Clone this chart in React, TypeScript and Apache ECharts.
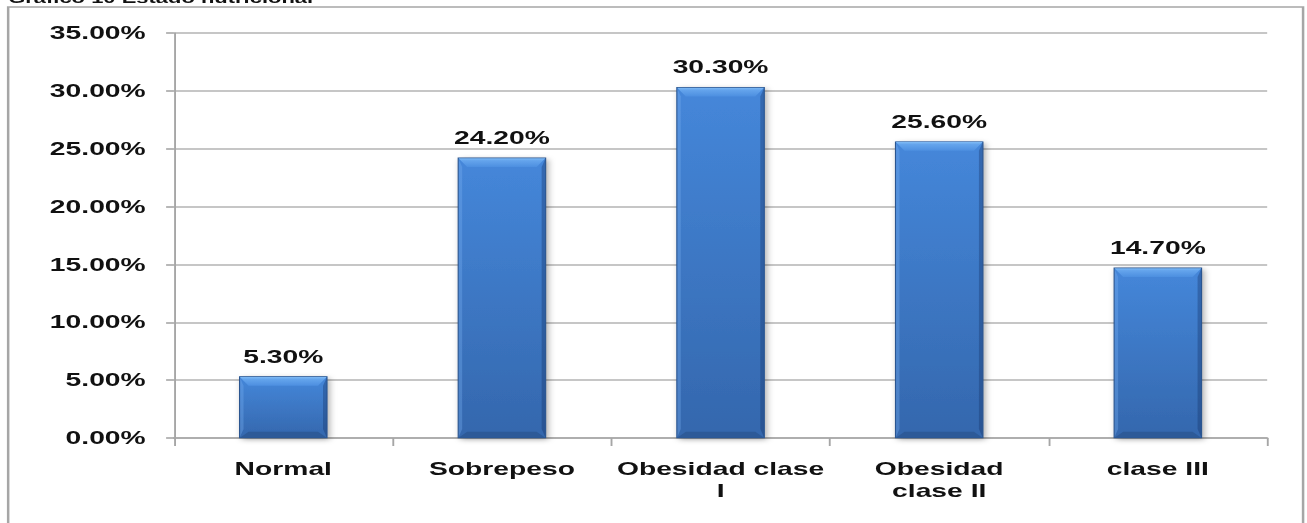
import React, { useEffect, useRef } from "react";
import * as echarts from "echarts";

const titleText = "Gráfico 10 Estado nutricional";
const categories = ["Normal", "Sobrepeso", "Obesidad clase\nI", "Obesidad\nclase II", "clase III"];
const values = [5.3, 24.2, 30.3, 25.6, 14.7];
const yMin = 0;
const yMax = 35;
const yStep = 5;

const STRETCH = 1.57;
const FULL_W = 1307;
const FULL_H = 523;
const W = FULL_W / STRETCH;
const BAR_RATIO = 0.4;

export default function App() {
  const ref = useRef<HTMLDivElement>(null);
  useEffect(() => {
    if (!ref.current) return;
    const chart = echarts.init(ref.current, null, { renderer: "svg" });
    const font = "'Liberation Sans', Arial, sans-serif";

    const renderBar = (params: any, api: any) => {
      const idx = api.value(0);
      const val = api.value(1);
      const top = api.coord([idx, val]);
      const base = api.coord([idx, 0]);
      const band = api.size([1, 0])[0];
      const w = band * BAR_RATIO;
      const x0 = top[0] - w / 2;
      const x1 = top[0] + w / 2;
      const y0 = top[1];
      const y1 = base[1];
      const h = y1 - y0;
      const bv = Math.min(9, h / 3); // vertical bevel size (px)
      const bh = bv / STRETCH; // horizontal bevel size in unstretched units
      const edge = 4 / STRETCH;
      return {
        type: "group",
        children: [
          {
            type: "rect",
            shape: { x: x0, y: y0, width: w, height: h },
            style: {
              fill: new echarts.graphic.LinearGradient(0, 0, 0, 1, [
                { offset: 0, color: "#4587da" },
                { offset: 1, color: "#3467ad" },
              ]),
              shadowColor: "rgba(0,0,0,0.35)",
              shadowBlur: 5,
              shadowOffsetX: 1.5,
              shadowOffsetY: 1.5,
            },
          },
          {
            type: "polygon",
            shape: { points: [[x0, y0], [x0 + edge, y0 + bv], [x0 + edge, y1 - bv], [x0, y1]] },
            style: { fill: "rgba(120,175,240,0.35)" },
          },
          {
            type: "polygon",
            shape: { points: [[x1, y0], [x1 - edge, y0 + bv], [x1 - edge, y1 - bv], [x1, y1]] },
            style: { fill: "rgba(20,50,100,0.35)" },
          },
          {
            type: "polygon",
            shape: { points: [[x0, y0], [x1, y0], [x1 - bh, y0 + bv], [x0 + bh, y0 + bv]] },
            style: {
              fill: new echarts.graphic.LinearGradient(0, 0, 0, 1, [
                { offset: 0, color: "#82bdf6" },
                { offset: 0.3, color: "#64a4ec" },
                { offset: 1, color: "#4d8fe0" },
              ]),
            },
          },
          {
            type: "polygon",
            shape: { points: [[x0, y1], [x1, y1], [x1 - bh, y1 - bv * 0.7], [x0 + bh, y1 - bv * 0.7]] },
            style: { fill: "#2d5a98" },
          },
          {
            type: "rect",
            shape: { x: x0, y: y0, width: w, height: h },
            style: { fill: "none", stroke: "#2a5590", lineWidth: 0.7 },
          },
        ],
      };
    };

    chart.setOption({
      animation: false,
      backgroundColor: "#ffffff",
      graphic: [
        {
          type: "rect",
          shape: { x: 5.2, y: 7, width: W - 5.2 - 2.5, height: 600 },
          style: { fill: "none", stroke: "#a6a6a6", lineWidth: 1.6 },
          silent: true,
        },
        {
          type: "text",
          x: 5.2,
          y: 5,
          style: {
            text: titleText,
            font: "bold 14px " + font,
            fill: "#111",
            textVerticalAlign: "bottom",
          },
        },
      ],
      grid: {
        left: 110.8,
        right: W - 807.6,
        top: 33,
        bottom: FULL_H - 438,
        containLabel: false,
      },
      xAxis: {
        type: "category",
        data: categories,
        axisLine: { lineStyle: { color: "#a6a6a6", width: 1.6 } },
        axisTick: { show: true, length: 8, lineStyle: { color: "#a6a6a6", width: 1.2 } },
        axisLabel: {
          interval: 0,
          margin: 20,
          color: "#111",
          fontFamily: font,
          fontWeight: "bold",
          fontSize: 18,
          lineHeight: 22,
        },
      },
      yAxis: {
        type: "value",
        min: yMin,
        max: yMax,
        interval: yStep,
        axisLine: { show: true, lineStyle: { color: "#a6a6a6", width: 1.2 } },
        axisTick: { show: true, length: 5, lineStyle: { color: "#a6a6a6", width: 1.6 } },
        splitLine: { show: true, lineStyle: { color: "#b3b3b3", width: 1.6 } },
        axisLabel: {
          margin: 18,
          color: "#111",
          fontFamily: font,
          fontWeight: "bold",
          fontSize: 18,
          formatter: (v: number) => v.toFixed(2) + "%",
        },
      },
      series: [
        {
          type: "bar",
          data: values,
          barWidth: "40%",
          itemStyle: { color: "rgba(0,0,0,0)" },
          label: {
            show: true,
            position: "top",
            distance: 11,
            color: "#111",
            fontFamily: font,
            fontWeight: "bold",
            fontSize: 18,
            formatter: (p: any) => Number(p.value).toFixed(2) + "%",
          },
          z: 3,
        },
        {
          type: "custom",
          data: values.map((v, i) => [i, v]),
          encode: { x: 0, y: 1 },
          renderItem: renderBar,
          z: 2,
        },
      ],
    });
    return () => chart.dispose();
  }, []);
  return (
    <div
      style={{
        position: "absolute",
        left: 0,
        top: 0,
        width: FULL_W,
        height: FULL_H,
        overflow: "hidden",
        background: "#fff",
      }}
    >
      <div
        ref={ref}
        style={{
          width: W,
          height: FULL_H,
          transform: `scaleX(${STRETCH})`,
          transformOrigin: "0 0",
        }}
      />
    </div>
  );
}
